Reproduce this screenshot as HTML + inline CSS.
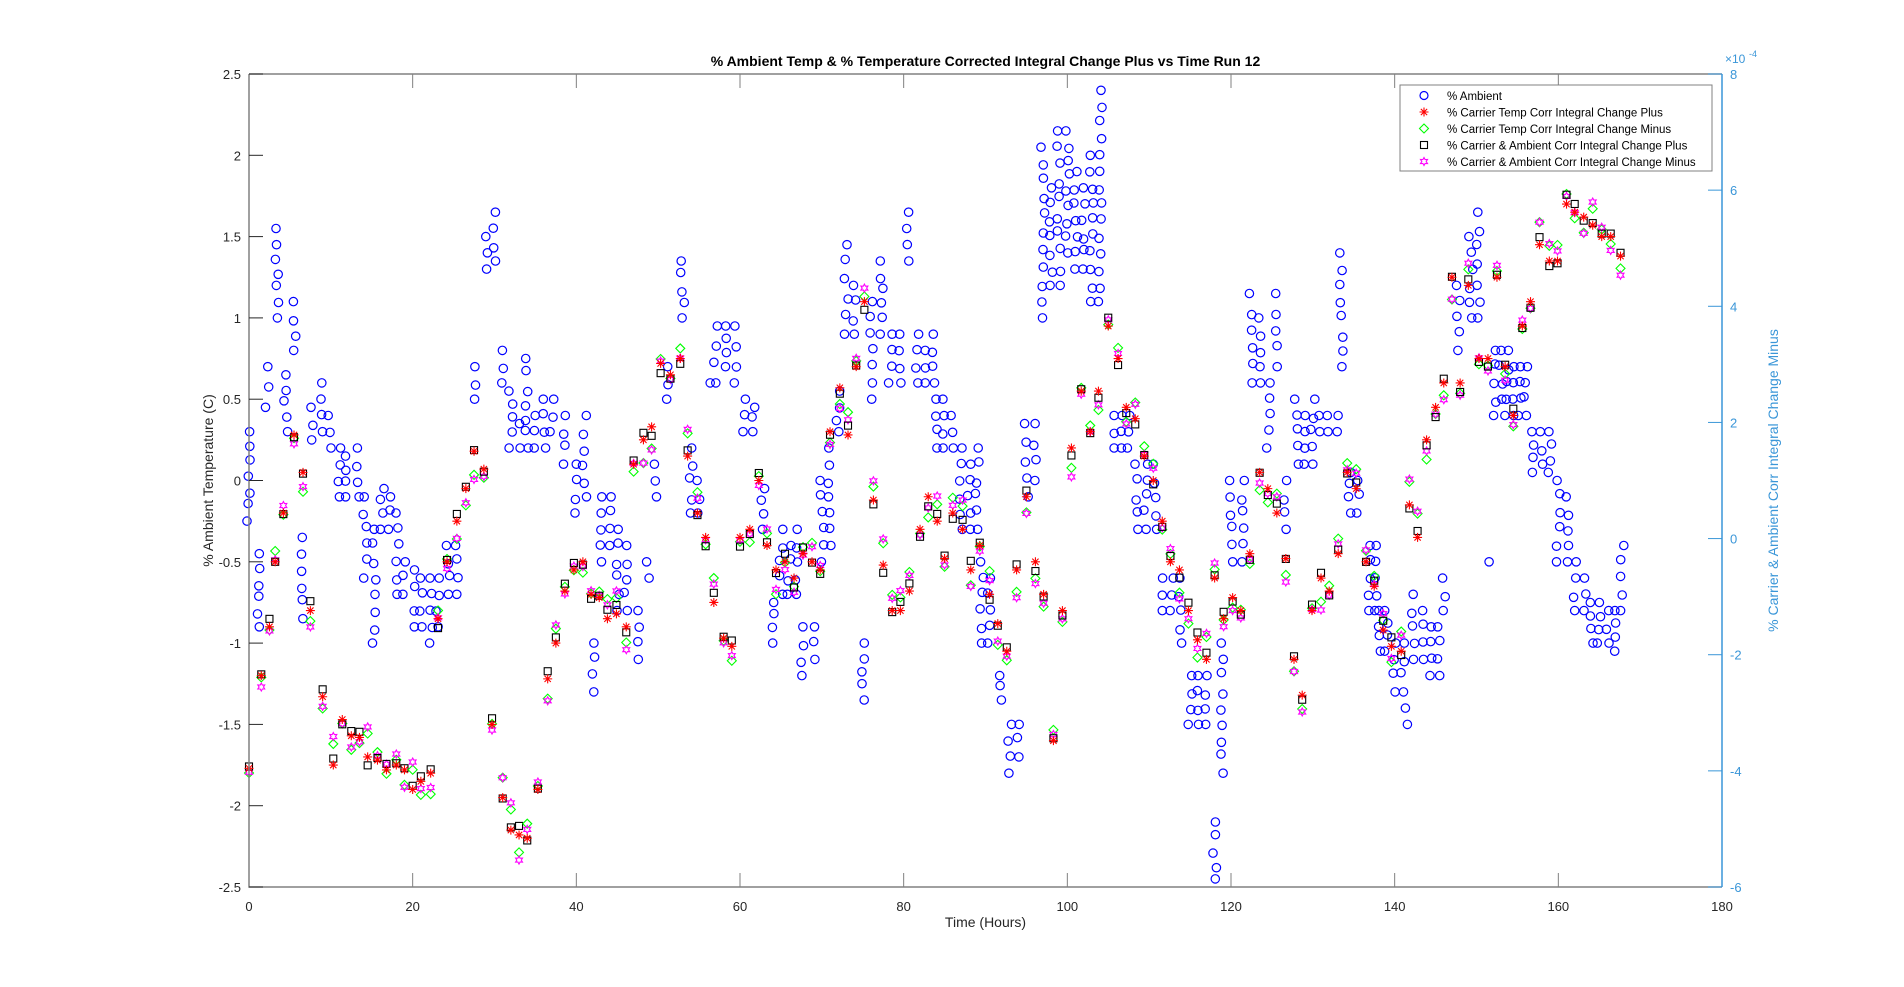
<!DOCTYPE html>
<html><head><meta charset="utf-8">
<style>
html,body{margin:0;padding:0;background:#fff;}
svg{display:block;font-family:"Liberation Sans",Arial,sans-serif;}
</style></head>
<body>
<svg id="s" width="1904" height="987" xmlns="http://www.w3.org/2000/svg">
<rect x="0" y="0" width="1904" height="987" fill="#fff"/>
<g id="data"></g>
<g id="axes"></g>
</svg>
<script>
const NS="http://www.w3.org/2000/svg";
const X0=249,X1=1722,Y0=74,Y1=887;
const sx=h=>X0+(X1-X0)*h/180;
const sy=v=>Y1-(Y1-Y0)*(v+2.5)/5;
const data=document.getElementById('data'),axes=document.getElementById('axes');
function el(p,t,a,txt){const e=document.createElementNS(NS,t);for(const k in a)e.setAttribute(k,a[k]);if(txt!==undefined)e.textContent=txt;p.appendChild(e);return e;}
let seed=7;function rnd(){seed=(seed*16807)%2147483647;return seed/2147483647;}
const amb=[[0,-0.25,0.3],[1.1,-0.9,-0.45],[2.2,0.45,0.7],[3.4,1.0,1.55],[4.5,0.3,0.65],[5.5,0.8,1.1],[6.5,-0.85,-0.35],[7.6,0.25,0.45],[8.8,0.3,0.6],[9.8,0.2,0.4],[11,-0.1,0.2],[12,-0.1,0.15],[13.2,-0.1,0.2],[14.2,-0.6,-0.1],[15.3,-1.0,-0.3],[16.3,-0.3,-0.05],[17.2,-0.3,-0.1],[18.2,-0.7,-0.2],[19,-0.7,-0.5],[20,-0.9,-0.55],[21,-0.9,-0.6],[22.2,-1.0,-0.6],[23,-0.9,-0.6],[24.3,-0.7,-0.4],[25.4,-0.7,-0.4],[27.6,0.5,0.7],[29,1.3,1.5],[30,1.35,1.65],[31,0.6,0.8],[32,0.2,0.55],[33,0.2,0.35],[34,0.2,0.75],[35,0.2,0.4],[36,0.2,0.5],[37,0.3,0.5],[38.6,0.1,0.4],[40,-0.2,0.1],[41,-0.1,0.4],[42,-1.3,-1.0],[43,-0.5,-0.1],[44,-0.4,-0.1],[45,-0.8,-0.3],[46,-0.8,-0.4],[47.5,-1.1,-0.8],[48.7,-0.6,-0.5],[49.7,-0.1,0.1],[51,0.5,0.7],[53,1.0,1.35],[54,-0.2,0.2],[55,-0.2,0.0],[56.2,0.6,0.6],[57,0.6,0.95],[58.2,0.7,0.95],[59.5,0.6,0.95],[60.5,0.3,0.5],[61.7,0.3,0.45],[62.8,-0.3,-0.05],[64,-1.0,-0.75],[65,-0.7,-0.3],[66,-0.7,-0.4],[67,-0.7,-0.3],[67.7,-1.2,-0.9],[69,-1.1,-0.9],[70,-0.5,0.0],[71,-0.4,0.2],[72,0.3,0.55],[73,0.9,1.45],[74,0.9,1.2],[75,-1.35,-1.0],[76,0.5,1.1],[77.3,0.9,1.35],[78.4,0.6,0.9],[79.5,0.6,0.9],[80.5,1.35,1.65],[81.6,0.6,0.9],[82.6,0.6,0.8],[83.7,0.6,0.9],[84,0.2,0.5],[85,0.2,0.5],[86,0.2,0.4],[87,-0.3,0.2],[88,-0.3,0.1],[89,-0.3,0.2],[89.5,-1.0,-0.5],[90.5,-1.0,-0.6],[91.7,-1.35,-1.2],[93,-1.8,-1.5],[94,-1.7,-1.5],[95,-0.1,0.35],[96,0.0,0.35],[97,1.0,2.05],[98,1.2,1.8],[99,1.2,2.15],[100,1.4,2.15],[101,1.3,1.9],[102,1.3,1.8],[103,1.1,2.0],[104,1.1,2.4],[105.5,0.2,0.4],[106.5,0.2,0.4],[107.5,0.2,0.4],[108.5,-0.3,0.1],[109.6,-0.3,0.1],[110.7,-0.3,0.1],[111.7,-0.8,-0.6],[112.8,-0.8,-0.6],[113.8,-1.0,-0.6],[115,-1.5,-1.2],[116,-1.5,-1.2],[117,-1.5,-1.2],[118,-2.45,-2.1],[119,-1.8,-1.0],[120,-0.5,0.0],[121.4,-0.5,0.0],[122.5,0.6,1.15],[123.6,0.6,1.0],[124.6,0.2,0.6],[125.7,0.7,1.15],[126.7,-0.3,0.0],[128,0.1,0.5],[129,0.1,0.4],[130,0.1,0.5],[131,0.3,0.4],[132,0.3,0.4],[133,0.3,0.4],[133.5,0.7,1.4],[134.6,-0.2,0.05],[135.6,-0.2,0.0],[136.8,-0.8,-0.4],[137.8,-0.8,-0.4],[138.2,-1.05,-0.8],[139,-1.05,-0.8],[140,-1.3,-1.0],[141,-1.3,-1.0],[141.5,-1.5,-1.4],[142.3,-1.1,-0.7],[143.3,-1.1,-0.8],[144.4,-1.2,-0.9],[145.4,-1.2,-0.9],[146,-0.8,-0.6],[147.8,0.8,1.2],[149.3,1.0,1.5],[150.2,1.0,1.65],[151.3,-0.5,-0.5],[152.2,0.4,0.8],[153,0.5,0.8],[153.7,0.4,0.8],[154.4,0.4,0.7],[155.2,0.4,0.7],[156,0.4,0.7],[157,0.05,0.3],[158,0.1,0.3],[159,0.05,0.3],[160,-0.5,0.0],[161,-0.5,-0.1],[162,-0.8,-0.5],[163.2,-0.8,-0.6],[164,-1.0,-0.75],[165,-1.0,-0.75],[166,-1.0,-0.8],[167,-1.05,-0.8],[167.8,-0.8,-0.4]];
for(const [h,a,b] of amb){const n=Math.max(1,Math.round((b-a)/0.1)+1);for(let i=0;i<n;i++){let v=n==1?a:a+(b-a)*i/(n-1);if(i>0&&i<n-1)v+=(rnd()-0.5)*0.04;const hx=h+(rnd()-0.5)*0.5;el(data,'circle',{cx:sx(hx).toFixed(1),cy:sy(v).toFixed(1),r:4.2,fill:'none',stroke:'#0000ff','stroke-width':1.2});}}
const base=[[0,-1.77],[1.5,-1.2],[2.5,-0.9],[3.2,-0.5],[4.2,-0.2],[5.5,0.28],[6.6,0.05],[7.5,-0.8],[9,-1.33],[10.3,-1.75],[11.4,-1.47],[12.5,-1.57],[13.5,-1.58],[14.5,-1.7],[15.7,-1.72],[16.8,-1.78],[18,-1.75],[19,-1.78],[20,-1.9],[21,-1.85],[22.2,-1.8],[23.1,-0.85],[24.2,-0.5],[25.4,-0.25],[26.5,-0.05],[27.5,0.18],[28.7,0.07],[29.7,-1.5],[31,-1.95],[32,-2.15],[33,-2.18],[34,-2.2],[35.3,-1.9],[36.5,-1.22],[37.5,-1.0],[38.6,-0.68],[39.7,-0.55],[40.8,-0.5],[41.8,-0.7],[42.8,-0.72],[43.8,-0.85],[44.9,-0.82],[46.1,-0.9],[47,0.1],[48.2,0.25],[49.2,0.33],[50.3,0.72],[51.5,0.65],[52.7,0.75],[53.6,0.15],[54.8,-0.2],[55.8,-0.35],[56.8,-0.75],[58,-0.97],[59,-1.02],[60,-0.35],[61.2,-0.3],[62.3,0.0],[63.3,-0.4],[64.4,-0.55],[65.5,-0.5],[66.6,-0.6],[67.7,-0.45],[68.8,-0.5],[69.8,-0.55],[71,0.3],[72.2,0.57],[73.2,0.28],[74.2,0.7],[75.2,1.1],[76.3,-0.12],[77.5,-0.52],[78.6,-0.8],[79.6,-0.8],[80.7,-0.68],[82,-0.3],[83,-0.1],[84.1,-0.25],[85,-0.48],[86,-0.2],[87.2,-0.3],[88.2,-0.55],[89.3,-0.4],[90.5,-0.7],[91.5,-0.88],[92.6,-1.05],[93.8,-0.55],[95,-0.1],[96.1,-0.5],[97.1,-0.7],[98.3,-1.6],[99.4,-0.8],[100.5,0.2],[101.7,0.55],[102.8,0.3],[103.8,0.55],[105,0.95],[106.2,0.75],[107.2,0.45],[108.3,0.38],[109.4,0.15],[110.5,0.0],[111.6,-0.25],[112.6,-0.5],[113.7,-0.55],[114.8,-0.8],[115.9,-0.98],[117,-1.1],[118,-0.6],[119.1,-0.85],[120.2,-0.72],[121.2,-0.8],[122.3,-0.45],[123.5,0.05],[124.5,-0.05],[125.6,-0.2],[126.7,-0.48],[127.7,-1.1],[128.7,-1.32],[129.9,-0.8],[131,-0.6],[132,-0.68],[133.1,-0.45],[134.2,0.05],[135.3,-0.05],[136.5,-0.5],[137.5,-0.65],[138.6,-0.92],[139.6,-1.02],[140.8,-1.05],[141.8,-0.15],[142.8,-0.35],[143.9,0.25],[145,0.45],[146,0.6],[147,1.25],[148,0.6],[149,1.2],[150.3,0.75],[151.4,0.75],[152.5,1.25],[153.5,0.7],[154.5,0.4],[155.6,0.95],[156.6,1.1],[157.7,1.45],[158.9,1.35],[159.9,1.35],[161,1.7],[162,1.65],[163.1,1.62],[164.2,1.57],[165.3,1.5],[166.4,1.5],[167.6,1.38]];
function star(g,x,y){const r=4.5;el(g,'path',{d:`M${x-r} ${y}H${x+r}M${x} ${y-r}V${y+r}M${x-r*.7} ${y-r*.7}L${x+r*.7} ${y+r*.7}M${x-r*.7} ${y+r*.7}L${x+r*.7} ${y-r*.7}`,stroke:'#ff0000','stroke-width':1.1,fill:'none'});}
function dia(g,x,y){const r=4.5;el(g,'path',{d:`M${x} ${y-r}L${x+r} ${y}L${x} ${y+r}L${x-r} ${y}Z`,stroke:'#00ff00','stroke-width':1.1,fill:'none'});}
function sq(g,x,y){el(g,'rect',{x:x-3.5,y:y-3.5,width:7,height:7,stroke:'#000','stroke-width':1.1,fill:'none'});}
function hex(g,x,y){const r=4;let d='';for(let i=0;i<12;i++){const a=Math.PI*i/6-Math.PI/2,rr=i%2?r*0.55:r;d+=(i?'L':'M')+(x+rr*Math.cos(a)).toFixed(1)+' '+(y+rr*Math.sin(a)).toFixed(1);}el(g,'path',{d:d+'Z',stroke:'#ff00ff','stroke-width':1.1,fill:'none'});}
for(const [h,v] of base){
 const x=sx(h);
 const dg=(rnd()-0.5)*0.3,dk=(rnd()-0.5)*0.12,dm=dg+(rnd()-0.5)*0.12;
 dia(data,x,sy(v+dg));
 hex(data,x,sy(v+dm));
 sq(data,x,sy(v+dk));
 star(data,x,sy(v));
}
const G='#808080';
el(axes,'path',{d:`M${X0} ${Y0}H${X1}M${X0} ${Y0}V${Y1}H${X1}`,stroke:G,'stroke-width':1.5,fill:'none'});
for(let h=0;h<=180;h+=20){const x=sx(h);
 el(axes,'path',{d:`M${x} ${Y1}v-14M${x} ${Y0}v14`,stroke:G,'stroke-width':1});
 el(axes,'text',{x:x,y:Y1+24,'text-anchor':'middle','font-size':13,fill:'#262626'},h);}
for(let v=-2.5;v<=2.5001;v+=0.5){const y=sy(v);
 el(axes,'path',{d:`M${X0} ${y}h14`,stroke:'#262626','stroke-width':1});
 el(axes,'text',{x:X0-8,y:y+5,'text-anchor':'end','font-size':13,fill:'#262626'},(Math.round(v*10)/10).toString());}
const B='#3a96d8';
el(axes,'path',{d:`M${X1} ${Y0}V${Y1}`,stroke:B,'stroke-width':1.5});
for(let i=0;i<=7;i++){const v=8-2*i;const y=Y0+(Y1-Y0)*i/7;
 el(axes,'path',{d:`M${X1} ${y}h-14`,stroke:B,'stroke-width':1});
 el(axes,'text',{x:X1+8,y:y+5,'font-size':13,fill:B},v);}
el(axes,'text',{x:X1+3,y:Y0-11,'font-size':12,fill:B},'×10');
el(axes,'text',{x:X1+27,y:Y0-17,'font-size':9,fill:B},'-4');
el(axes,'text',{x:(X0+X1)/2,y:66,'text-anchor':'middle','font-size':14,'font-weight':'bold',fill:'#000'},'% Ambient Temp & % Temperature Corrected Integral Change Plus vs Time Run 12');
el(axes,'text',{x:(X0+X1)/2,y:927,'text-anchor':'middle','font-size':14,fill:'#262626'},'Time (Hours)');
el(axes,'text',{x:0,y:0,transform:`translate(213 ${(Y0+Y1)/2}) rotate(-90)`,'text-anchor':'middle','font-size':14,fill:'#262626'},'% Ambient Temperature (C)');
el(axes,'text',{x:0,y:0,transform:`translate(1778 ${(Y0+Y1)/2}) rotate(-90)`,'text-anchor':'middle','font-size':14,fill:B},'% Carrier & Ambient Corr Integral Change Minus');
el(axes,'rect',{x:1400,y:85,width:312,height:86,fill:'#fff',stroke:G,'stroke-width':1});
const labels=['% Ambient','% Carrier Temp Corr Integral Change Plus','% Carrier Temp Corr Integral Change Minus','% Carrier & Ambient Corr Integral Change Plus','% Carrier & Ambient Corr Integral Change Minus'];
labels.forEach((t,i)=>{const y=95.5+i*16.5;const x=1424;
 if(i==0)el(axes,'circle',{cx:x,cy:y,r:4,fill:'none',stroke:'#0000ff','stroke-width':1.2});
 if(i==1)star(axes,x,y);if(i==2)dia(axes,x,y);if(i==3)sq(axes,x,y);if(i==4)hex(axes,x,y);
 el(axes,'text',{x:1447,y:y+4.5,'font-size':11.5,fill:'#000'},t);});
</script>
</body></html>
